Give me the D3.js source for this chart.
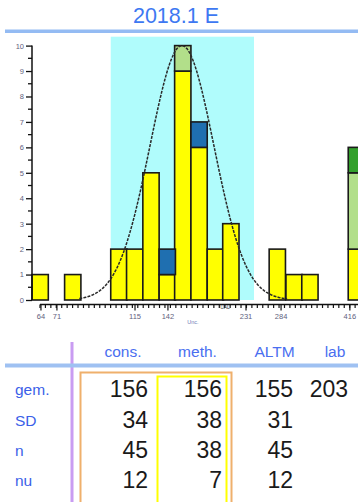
<!DOCTYPE html>
<html>
<head>
<meta charset="utf-8">
<script src="https://cdn.jsdelivr.net/npm/d3@7"></script>
<style>
  html, body { margin: 0; padding: 0; background: #fff; }
  svg { display: block; font-family: "Liberation Sans", Arial, sans-serif; }
</style>
</head>
<body>
<div id="chart"></div>
<script>
// histogram bins (position in bin units along the axis) and stacked counts
const binStart   = [0, 2, 4.83, 5.8, 6.8, 7.8, 8.75, 9.75, 10.75, 11.7, 14.55, 15.58, 16.55, 19.4];
const yellowCnt  = [1, 1, 2, 2, 5, 1, 9, 6, 2, 3, 2, 1, 1, 2];
const blueCnt    = [0, 0, 0, 0, 0, 1, 0, 1, 0, 0, 0, 0, 0, 0];
const lgreenCnt  = [0, 0, 0, 0, 0, 0, 1, 0, 0, 0, 0, 0, 0, 3];
const greenCnt   = [0, 0, 0, 0, 0, 0, 0, 0, 0, 0, 0, 0, 0, 1];

// x-axis tick labels and where they sit (bin units)
const tickLabels = ["64", "71", "115", "142", "231", "284", "416"];
const tickPos    = [0.55, 1.53, 6.32, 8.34, 13.13, 15.28, 19.5];

// highlighted range and fitted normal curve (bin units)
const bandRange = [4.83, 13.62];
const curveMean = 9.2, curveSd = 1.96, curvePeak = 10;

// table
const colHeads  = ["cons.", "meth.", "ALTM", "lab"];
const rowLabels = ["gem.", "SD", "n", "nu"];
const consVals  = [156, 34, 45, 12];
const methVals  = [156, 38, 38, 7];
const altmVals  = [155, 31, 45, 12];
const labVals   = [203, null, null, null];

const W = 358, H = 502;
const svg = d3.select("#chart").append("svg").attr("width", W).attr("height", H);

// title
svg.append("text").attr("x", 176).attr("y", 23).attr("text-anchor", "middle")
  .attr("font-size", 21.5).attr("fill", "#3d78f2").text("2018.1 E");
svg.append("rect").attr("x", 5).attr("y", 29.5).attr("width", W - 5).attr("height", 3.5).attr("fill", "#94bbf3");

const x = d3.scaleLinear().domain([0, 20]).range([32, 358]);
const y = d3.scaleLinear().domain([0, 10]).range([300, 45.6]);
const bw = x(1) - x(0);

const plot = svg.append("g");
plot.append("defs").append("clipPath").attr("id", "clip")
  .append("rect").attr("x", 0).attr("y", 0).attr("width", W).attr("height", 320);

// cyan band
plot.append("rect")
  .attr("x", x(bandRange[0])).attr("width", x(bandRange[1]) - x(bandRange[0]))
  .attr("y", y(10.35)).attr("height", y(0) - y(10.35))
  .attr("fill", "#b0fcfc");

// stacked bars
const keys = ["yellow", "blue", "lgreen", "green"];
const colors = { yellow: "#ffff00", blue: "#1f6fb0", lgreen: "#b2df8a", green: "#33a02c" };
const rows = binStart.map((b, i) => ({ b, yellow: yellowCnt[i], blue: blueCnt[i], lgreen: lgreenCnt[i], green: greenCnt[i] }));
const stacked = d3.stack().keys(keys)(rows);

const barG = plot.append("g").attr("clip-path", "url(#clip)");
stacked.forEach(layer => {
  barG.selectAll(null)
    .data(layer.filter(d => d[1] > d[0]))
    .enter().append("rect")
    .attr("x", d => x(d.data.b))
    .attr("width", bw)
    .attr("y", d => y(d[1]))
    .attr("height", d => y(d[0]) - y(d[1]))
    .attr("fill", colors[layer.key])
    .attr("stroke", "#1a1a1a")
    .attr("stroke-width", 1.6);
});

// normal curve
const curvePts = d3.range(2.9, 15.7, 0.05).map(v => [v, curvePeak * Math.exp(-Math.pow(v - curveMean, 2) / (2 * curveSd * curveSd))]);
plot.append("path")
  .datum(curvePts)
  .attr("d", d3.line().x(d => x(d[0])).y(d => y(d[1])).curve(d3.curveBasis))
  .attr("fill", "none").attr("stroke", "#2a2a2a").attr("stroke-width", 1.5)
  .attr("stroke-dasharray", "3,1.2");

// y axis
const yAx = plot.append("g").attr("transform", "translate(32,0)")
  .call(d3.axisLeft(y).ticks(10).tickSize(6).tickPadding(2).tickFormat(d3.format("d")));
yAx.select(".domain").attr("stroke", "#111").attr("stroke-width", 1.5).attr("d", `M0,${y(10)}V${y(0)}`);
yAx.selectAll(".tick line").attr("stroke", "#111").attr("stroke-width", 1.3);
yAx.selectAll(".tick text").attr("font-size", 7.5).attr("fill", "#62627e").attr("font-family", "Liberation Sans, Arial");
yAx.selectAll(null).data(d3.range(0.5, 10, 1)).enter().append("line")
  .attr("x1", -4).attr("x2", 0).attr("y1", d => y(d)).attr("y2", d => y(d))
  .attr("stroke", "#111").attr("stroke-width", 1.3);

// x axis
const xAxY = 304.5;
const xAx = plot.append("g").attr("transform", `translate(0,${xAxY})`);
xAx.append("line").attr("x1", x(0.49)).attr("x2", W).attr("stroke", "#111").attr("stroke-width", 1.5);
xAx.selectAll(null).data(d3.range(0.49, 20, 1 / 3)).enter().append("line")
  .attr("x1", d => x(d)).attr("x2", d => x(d)).attr("y1", 0).attr("y2", 3.5)
  .attr("stroke", "#111").attr("stroke-width", 1.2);
xAx.selectAll(null).data(tickPos).enter().append("line")
  .attr("x1", d => x(d)).attr("x2", d => x(d)).attr("y1", 0).attr("y2", 6)
  .attr("stroke", "#111").attr("stroke-width", 1.2);
xAx.selectAll(null).data(tickLabels).enter().append("text")
  .attr("x", (d, i) => x(tickPos[i])).attr("y", 14.5).attr("text-anchor", "middle")
  .attr("font-size", 7.5).attr("fill", "#62627e").text(d => d);
xAx.append("text").attr("x", 193).attr("y", 19.5).attr("text-anchor", "middle")
  .attr("font-size", 5.5).attr("fill", "#7080b8").text("Unc.");
xAx.append("text").attr("x", 225).attr("y", 4.5).attr("text-anchor", "middle")
  .attr("font-size", 5).attr("fill", "#333").text("UAL");

// table
const tbl = svg.append("g");
tbl.append("rect").attr("x", 70.5).attr("y", 342).attr("width", 3).attr("height", H - 342).attr("fill", "#c99cf2");
tbl.append("rect").attr("x", 5).attr("y", 363.5).attr("width", W - 5).attr("height", 4).attr("fill", "#9fc1f2");

const headX = [123, 197.5, 274.5, 335];
tbl.selectAll(null).data(colHeads).enter().append("text")
  .attr("x", (d, i) => headX[i]).attr("y", 357).attr("text-anchor", "middle")
  .attr("font-size", 15.5).attr("fill", "#4a6ef0").text(d => d);

// boxes around cons./meth.
tbl.append("rect").attr("x", 80.5).attr("y", 372.5).attr("width", 151).attr("height", 140)
  .attr("fill", "none").attr("stroke", "#efb06c").attr("stroke-width", 2);
tbl.append("rect").attr("x", 157.5).attr("y", 376.5).attr("width", 69).attr("height", 140)
  .attr("fill", "none").attr("stroke", "#ffff00").attr("stroke-width", 2);

const rowY = [397, 427.5, 458, 488];
tbl.selectAll(null).data(rowLabels).enter().append("text")
  .attr("x", 15).attr("y", (d, i) => rowY[i] - 2).attr("font-size", 15.5).attr("fill", "#3b5fe8").text(d => d);

const cols = [consVals, methVals, altmVals, labVals];
const colRight = [148, 222, 293, 348];
cols.forEach((vals, c) => {
  tbl.selectAll(null).data(vals).enter().append("text")
    .attr("x", colRight[c]).attr("y", (d, i) => rowY[i]).attr("text-anchor", "end")
    .attr("font-size", 23).attr("fill", "#1a1a1a").text(d => d == null ? "" : d);
});
</script>
</body>
</html>
